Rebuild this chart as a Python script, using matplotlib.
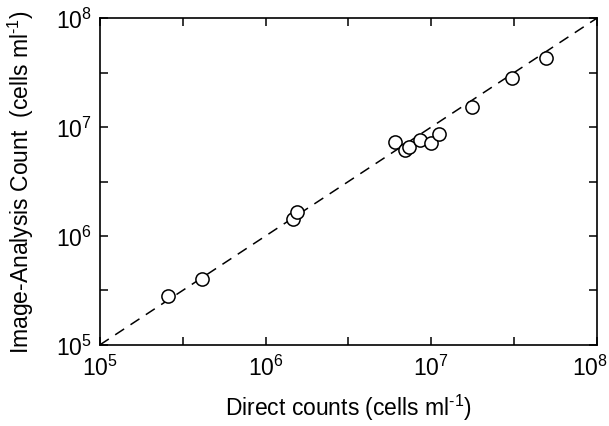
import numpy as np
import matplotlib
matplotlib.use("Agg")
import matplotlib.pyplot as plt
import matplotlib.transforms as mtransforms
from matplotlib.ticker import FixedLocator, NullFormatter, LogFormatterMathtext

plt.rcParams['font.family'] = ['Liberation Sans', 'DejaVu Sans']
plt.rcParams['mathtext.fontset'] = 'custom'
plt.rcParams['mathtext.rm'] = 'Liberation Sans'
plt.rcParams['mathtext.it'] = 'Liberation Sans:italic'

# direct counts vs image-analysis counts (cells per ml)
direct = [2.59e5, 4.14e5, 1.47e6, 1.55e6, 6.03e6, 6.93e6, 7.36e6, 8.62e6,
          1.0e7, 1.11e7, 1.77e7, 3.07e7, 4.96e7]
image = [2.81e5, 3.99e5, 1.42e6, 1.66e6, 7.3e6, 6.1e6, 6.55e6, 7.6e6,
         7.2e6, 8.6e6, 1.54e7, 2.80e7, 4.27e7]
lims = [1e5, 1e8]
decades = [1e5, 1e6, 1e7, 1e8]

fig = plt.figure(figsize=(6.09, 4.27), dpi=100)
ax = fig.add_axes([0.164, 0.19, 0.816, 0.765])

ax.plot(lims, lims, color='black', linestyle=(0, (7, 5)), linewidth=1.1)
ax.plot(direct, image, 'o', markersize=9.5, markerfacecolor='white',
        markeredgecolor='black', markeredgewidth=1.1)

ax.set_xscale('log')
ax.set_yscale('log')
ax.set_xlim(lims)
ax.set_ylim(lims)

minor = [10 ** (k + 0.5) for k in range(5, 8)]
for axis in (ax.xaxis, ax.yaxis):
    axis.set_major_locator(FixedLocator(decades))
    axis.set_major_formatter(LogFormatterMathtext())
    axis.set_minor_locator(FixedLocator(minor))
    axis.set_minor_formatter(NullFormatter())

ax.tick_params(which='both', direction='in', top=True, right=True,
               length=6, width=1.1, labelsize=16.5)
ax.tick_params(axis='x', pad=7)
ax.tick_params(axis='y', pad=6)
for s in ax.spines.values():
    s.set_linewidth(1.2)

ax.set_xlabel(r'Direct counts (cells ml$^{\text{-}1}$)', fontsize=16.5, labelpad=9)
ax.set_ylabel(r'Image-Analysis Count  (cells ml$^{\text{-}1}$)', fontsize=16.5, labelpad=14)

# the 10^8 label sits a little left of its tick in the original
fig.canvas.draw()
last = ax.xaxis.get_major_ticks()[-1].label1
last.set_transform(last.get_transform() + mtransforms.ScaledTranslation(-7 / 100, 0, fig.dpi_scale_trans))

fig.savefig('out.png', dpi=100)
